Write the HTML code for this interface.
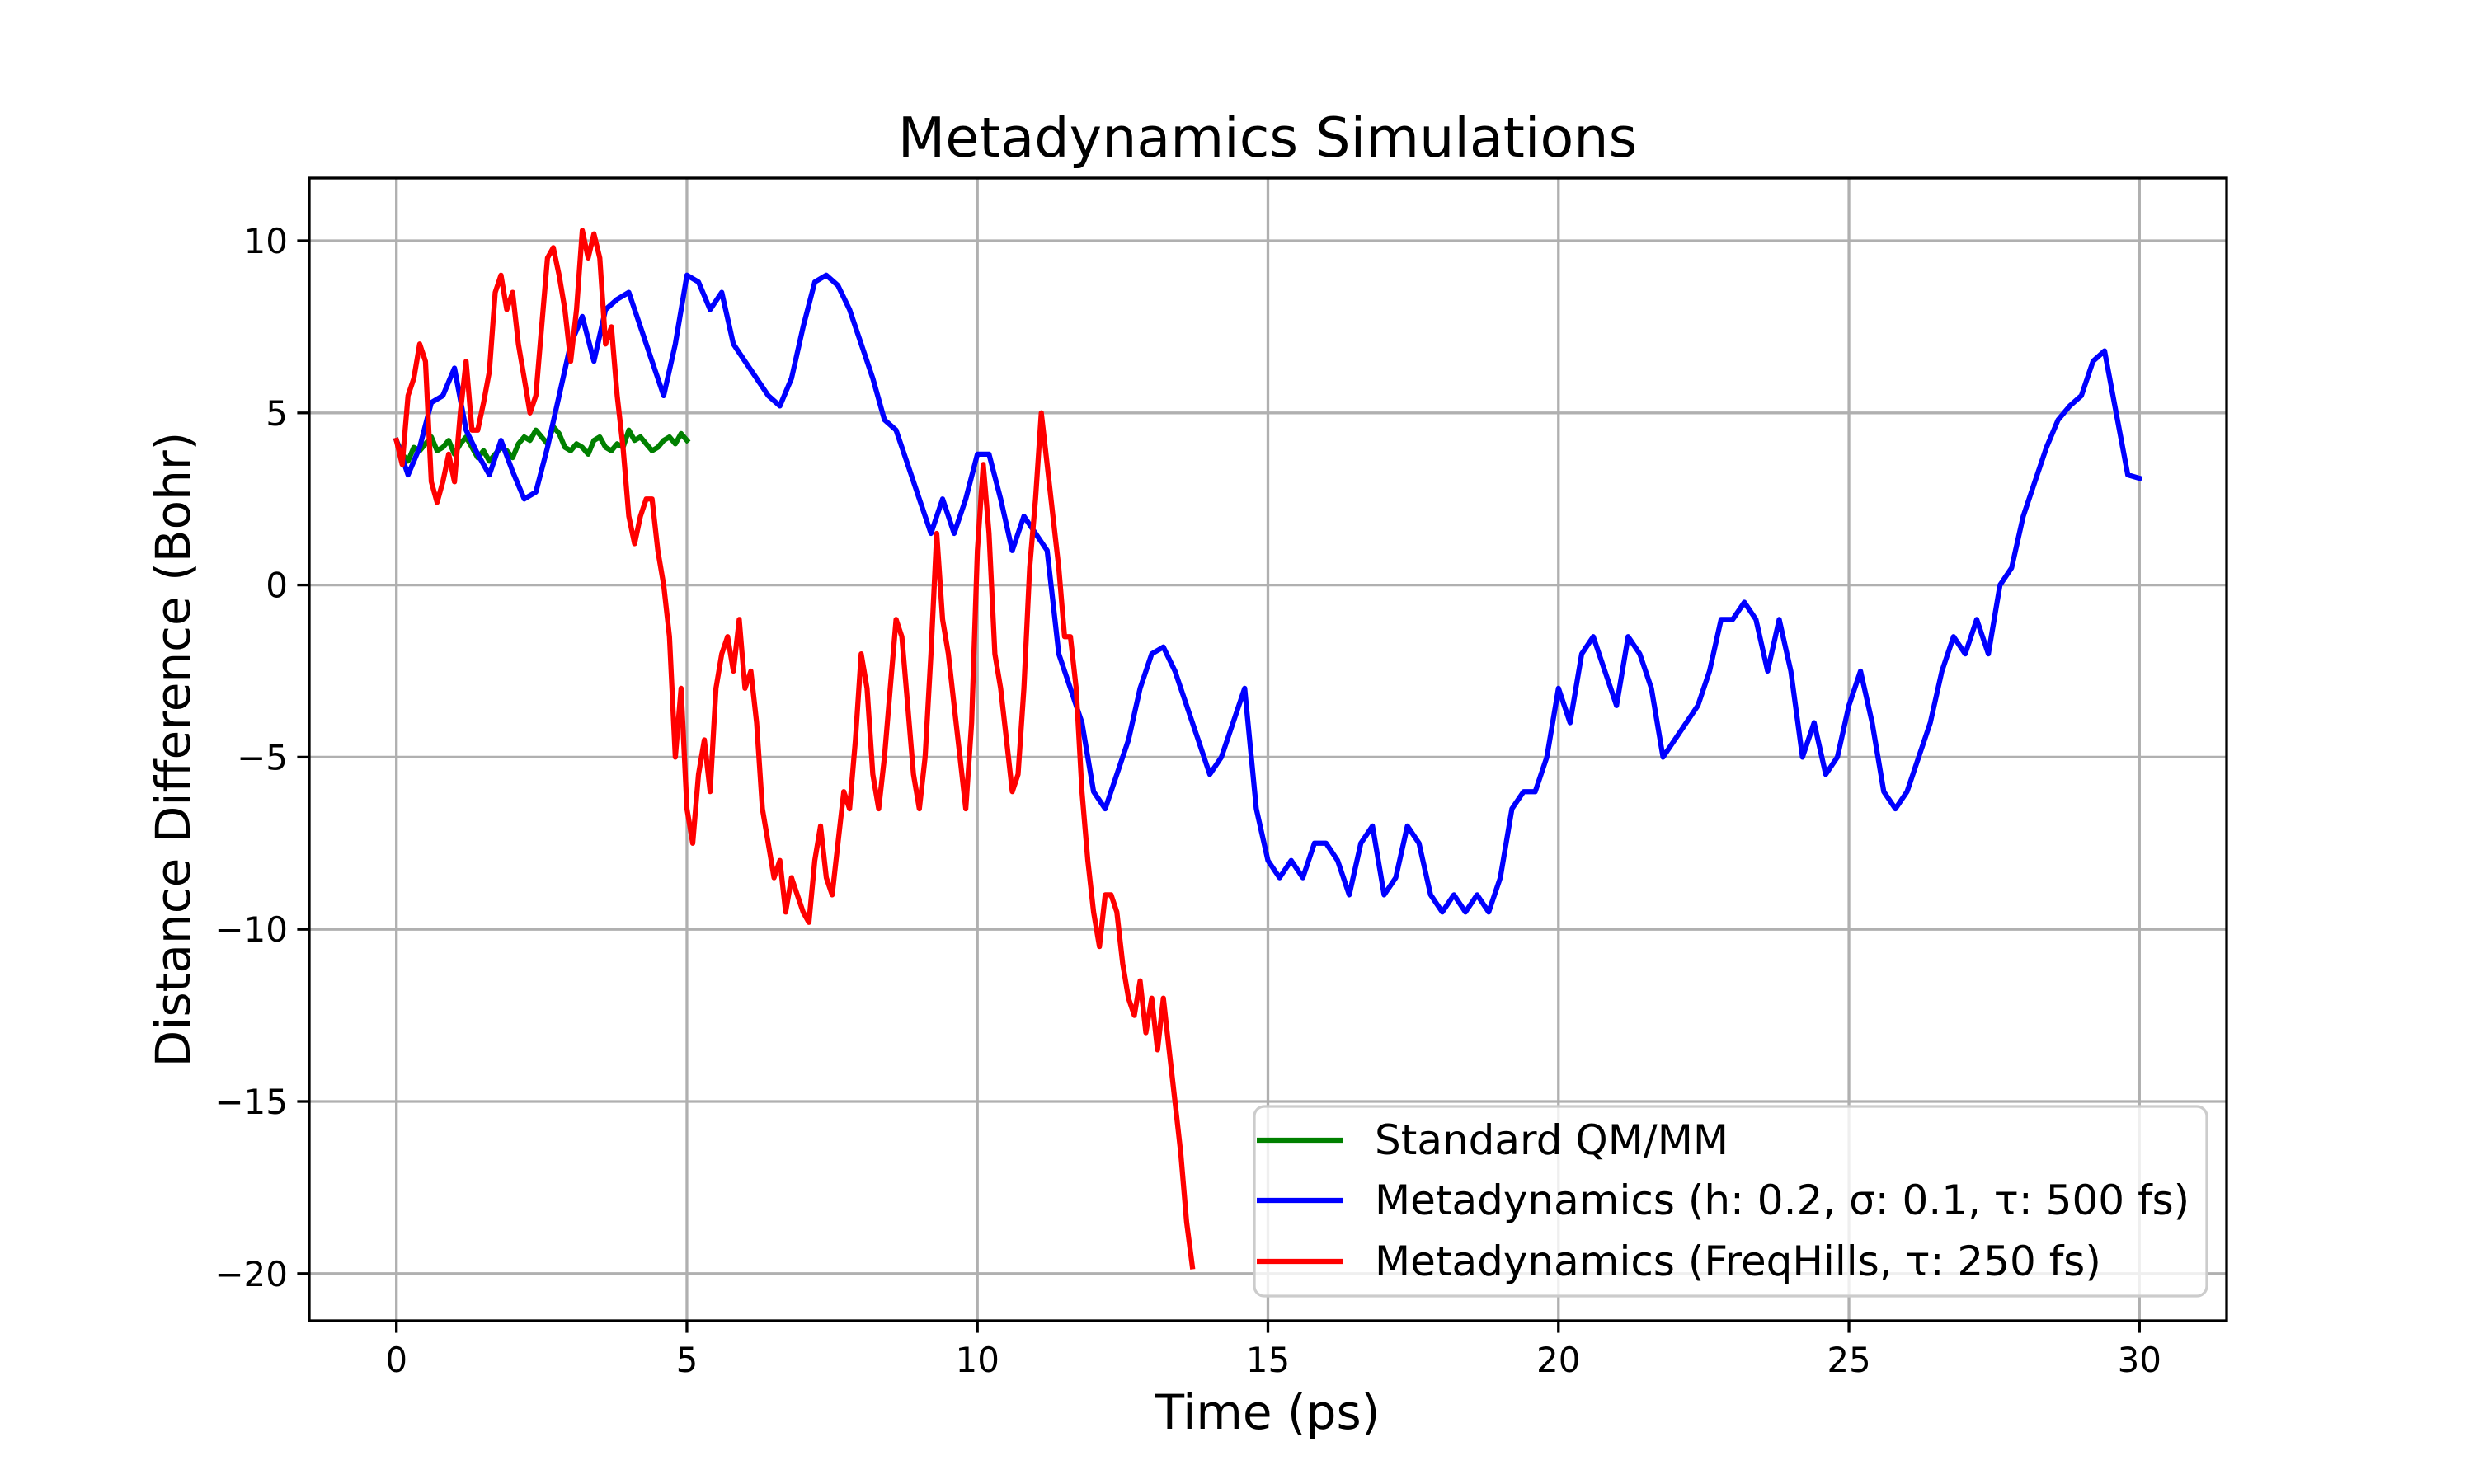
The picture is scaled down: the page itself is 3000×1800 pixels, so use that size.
<!DOCTYPE html>
<html><head><meta charset="utf-8"><style>
html,body{margin:0;padding:0;background:#fff;}
svg{display:block;font-family:"DejaVu Sans","Liberation Sans",sans-serif;}
</style></head><body>
<svg id="chart" width="3000" height="1800" viewBox="0 0 3000 1800" xmlns="http://www.w3.org/2000/svg">
<rect width="3000" height="1800" fill="#fff"/>
<g id="grid"></g>
<g id="series"></g>
<rect x="375" y="216" width="2325" height="1386" fill="none" stroke="#000" stroke-width="3.3"/>
<g id="ticks"></g>
<text x="1537" y="190" font-size="66.7" text-anchor="middle">Metadynamics Simulations</text>
<text x="1537" y="1733" font-size="58" text-anchor="middle">Time (ps)</text>
<text transform="translate(230,909) rotate(-90)" font-size="58" text-anchor="middle">Distance Difference (Bohr)</text>
<g>
<rect x="1521" y="1342" width="1155" height="230" rx="12" fill="#fff" fill-opacity="0.8" stroke="#ccc" stroke-width="3.3"/>
<g><line x1="1524" y1="1383" x2="1628" y2="1383" stroke="#008000" stroke-width="6.25"/><text x="1667" y="1400" font-size="50">Standard QM/MM</text></g>
<g><line x1="1524" y1="1456" x2="1628" y2="1456" stroke="#0000ff" stroke-width="6.25"/><text x="1667" y="1473" font-size="50">Metadynamics (h: 0.2, σ: 0.1, τ: 500 fs)</text></g>
<g><line x1="1524" y1="1530" x2="1628" y2="1530" stroke="#ff0000" stroke-width="6.25"/><text x="1667" y="1547" font-size="50">Metadynamics (FreqHills, τ: 250 fs)</text></g>
</g>
</svg>
<script>
const xTicks = [0,5,10,15,20,25,30];
const yTicks = [10,5,0,-5,-10,-15,-20];
const yTickLabels = ["10","5","0","\u22125","\u221210","\u221215","\u221220"];
const greenStep = 0.1;
const greenValues = [4.2,3.8,3.6,4.0,3.9,4.1,4.3,3.9,4.0,4.2,3.8,4.1,4.3,4.0,3.7,3.9,3.6,3.8,4.0,3.9,3.7,4.1,4.3,4.2,4.5,4.3,4.1,4.6,4.4,4.0,3.9,4.1,4.0,3.8,4.2,4.3,4.0,3.9,4.1,4.0,4.5,4.2,4.3,4.1,3.9,4.0,4.2,4.3,4.1,4.4,4.2];
const blueStep = 0.2;
const blueValues = [4.2,3.2,4.0,5.3,5.5,6.3,4.5,3.8,3.2,4.2,3.3,2.5,2.7,4.0,5.5,7.0,7.8,6.5,8.0,8.3,8.5,7.5,6.5,5.5,7.0,9.0,8.8,8.0,8.5,7.0,6.5,6.0,5.5,5.2,6.0,7.5,8.8,9.0,8.7,8.0,7.0,6.0,4.8,4.5,3.5,2.5,1.5,2.5,1.5,2.5,3.8,3.8,2.5,1.0,2.0,1.5,1.0,-2.0,-3.0,-4.0,-6.0,-6.5,-5.5,-4.5,-3.0,-2.0,-1.8,-2.5,-3.5,-4.5,-5.5,-5.0,-4.0,-3.0,-6.5,-8.0,-8.5,-8.0,-8.5,-7.5,-7.5,-8.0,-9.0,-7.5,-7.0,-9.0,-8.5,-7.0,-7.5,-9.0,-9.5,-9.0,-9.5,-9.0,-9.5,-8.5,-6.5,-6.0,-6.0,-5.0,-3.0,-4.0,-2.0,-1.5,-2.5,-3.5,-1.5,-2.0,-3.0,-5.0,-4.5,-4.0,-3.5,-2.5,-1.0,-1.0,-0.5,-1.0,-2.5,-1.0,-2.5,-5.0,-4.0,-5.5,-5.0,-3.5,-2.5,-4.0,-6.0,-6.5,-6.0,-5.0,-4.0,-2.5,-1.5,-2.0,-1.0,-2.0,0.0,0.5,2.0,3.0,4.0,4.8,5.2,5.5,6.5,6.8,5.0,3.2,3.1];
const redStep = 0.1;
const redValues = [4.2,3.5,5.5,6.0,7.0,6.5,3.0,2.4,3.0,3.8,3.0,5.0,6.5,4.5,4.5,5.3,6.2,8.5,9.0,8.0,8.5,7.0,6.0,5.0,5.5,7.5,9.5,9.8,9.0,8.0,6.5,8.0,10.3,9.5,10.2,9.5,7.0,7.5,5.5,4.0,2.0,1.2,2.0,2.5,2.5,1.0,0.0,-1.5,-5.0,-3.0,-6.5,-7.5,-5.5,-4.5,-6.0,-3.0,-2.0,-1.5,-2.5,-1.0,-3.0,-2.5,-4.0,-6.5,-7.5,-8.5,-8.0,-9.5,-8.5,-9.0,-9.5,-9.8,-8.0,-7.0,-8.5,-9.0,-7.5,-6.0,-6.5,-4.5,-2.0,-3.0,-5.5,-6.5,-5.0,-3.0,-1.0,-1.5,-3.5,-5.5,-6.5,-5.0,-2.0,1.5,-1.0,-2.0,-3.5,-5.0,-6.5,-4.0,1.0,3.5,1.5,-2.0,-3.0,-4.5,-6.0,-5.5,-3.0,0.5,2.5,5.0,3.5,2.0,0.5,-1.5,-1.5,-3.0,-6.0,-8.0,-9.5,-10.5,-9.0,-9.0,-9.5,-11.0,-12.0,-12.5,-11.5,-13.0,-12.0,-13.5,-12.0,-13.5,-15.0,-16.5,-18.5,-19.8];

const X0=375,X1=2700,Y0=216,Y1=1602,XMIN=-1.5,XMAX=31.5,YMIN=-21.37,YMAX=11.82;
function sx(t){return X0+(t-XMIN)/(XMAX-XMIN)*(X1-X0);}
function sy(v){return Y0+(YMAX-v)/(YMAX-YMIN)*(Y1-Y0);}
const NS="http://www.w3.org/2000/svg";
const grid=document.getElementById('grid'), ticks=document.getElementById('ticks'), series=document.getElementById('series');
function mk(tag,attrs,parent){const e=document.createElementNS(NS,tag);for(const k in attrs)e.setAttribute(k,attrs[k]);parent.appendChild(e);return e;}
xTicks.forEach(t=>{
  const g=mk('line',{x1:sx(t),x2:sx(t),y1:Y0,y2:Y1,stroke:'#b0b0b0','stroke-width':3.3},grid);
  
  
  const tk=mk('line',{x1:sx(t),x2:sx(t),y1:Y1,y2:Y1+14.6,stroke:'#000','stroke-width':3.3},ticks);
  
  
  const tx=mk('text',{x:sx(t),y:Y1+62,'font-size':42,'text-anchor':'middle'},ticks);
  tx.textContent=String(t);
  
  
});
yTicks.forEach((v,i)=>{
  const g=mk('line',{x1:X0,x2:X1,y1:sy(v),y2:sy(v),stroke:'#b0b0b0','stroke-width':3.3},grid);
  
  
  const tk=mk('line',{x1:X0-14.6,x2:X0,y1:sy(v),y2:sy(v),stroke:'#000','stroke-width':3.3},ticks);
  
  
  const tx=mk('text',{x:X0-26,y:sy(v)+15,'font-size':42,'text-anchor':'end'},ticks);
  tx.textContent=yTickLabels[i];
  
  
});
function drawLine(vals,step,color,name){
  const pts=vals.map((v,i)=>sx(i*step).toFixed(1)+','+sy(v).toFixed(1)).join(' ');
  const p=mk('polyline',{points:pts,fill:'none',stroke:color,'stroke-width':6.25,'stroke-linejoin':'round','stroke-linecap':'square'},series);
  
  
}
drawLine(greenValues,greenStep,'#008000','standard-qmmm-line');
drawLine(blueValues,blueStep,'#0000ff','metadynamics-h-line');
drawLine(redValues,redStep,'#ff0000','metadynamics-freqhills-line');
</script>
</body></html>
